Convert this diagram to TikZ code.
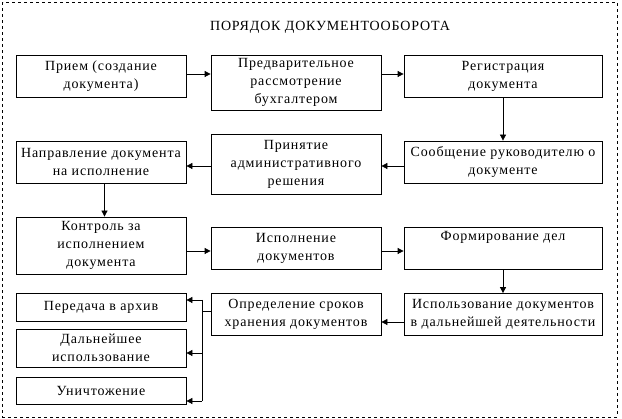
\documentclass[tikz,border=0pt]{standalone}
\usepackage{fontspec}
\setmainfont[LetterSpace=6]{Liberation Serif}
\usetikzlibrary{arrows.meta}
\begin{document}
\begin{tikzpicture}[x=1pt,y=-1pt,
  box/.style={draw,line width=0.8pt,align=center,inner sep=0pt,
    font=\fontsize{14}{18}\selectfont},
  arr/.style={line width=0.8pt,-{Triangle[length=6pt,width=6pt]}},
  ln/.style={line width=0.8pt}]
\useasboundingbox (0,0) rectangle (622,419);
\draw[dashed,line width=0.7pt] (2.5,2.5) rectangle (617,417);
\node[font=\fontsize{14}{18}\selectfont] (title) at (330,27) {ПОРЯДОК ДОКУМЕНТООБОРОТА};
% row 1
\node[box,minimum width=170pt,minimum height=42pt] (A) at (101,76) {Прием (создание\\документа)};
\node[box,minimum width=170pt,minimum height=55pt] (B) at (296,82.5) {Предварительное\\рассмотрение\\бухгалтером};
\node[box,minimum width=198pt,minimum height=42pt] (C) at (503,76) {Регистрация\\документа};
% row 2
\node[box,minimum width=170pt,minimum height=42pt] (D) at (101,162) {Направление документа\\на исполнение};
\node[box,minimum width=170pt,minimum height=60pt] (E) at (296,164) {Принятие\\административного\\решения};
\node[box,minimum width=198pt,minimum height=42pt] (F) at (503,162) {Сообщение руководителю о\\документе};
% row 3
\node[box,minimum width=170pt,minimum height=57pt] (G) at (101,245.5) {Контроль за\\исполнением\\документа};
\node[box,minimum width=170pt,minimum height=42pt] (H) at (296,248) {Исполнение\\документов};
\node[box,minimum width=198pt,minimum height=42pt] (I) at (503,248) {Формирование дел\\\strut};
% row 4
\node[box,minimum width=170pt,minimum height=28pt] (J) at (101,307) {Передача в архив};
\node[box,minimum width=170pt,minimum height=38pt] (K) at (101,348) {Дальнейшее\\использование};
\node[box,minimum width=170pt,minimum height=27pt] (L) at (101,391) {Уничтожение};
\node[box,minimum width=170pt,minimum height=42pt] (M) at (296,314.5) {Определение сроков\\хранения документов};
\node[box,minimum width=198pt,minimum height=42pt] (N) at (503,314.5) {Использование документов\\в дальнейшей деятельности};
% connectors
\draw[arr] ([yshift=2pt]A.east) -- ([yshift=2pt]A.east -| B.west);
\draw[arr] ([yshift=2pt]C.west -| B.east) -- ([yshift=2pt]C.west);
\draw[arr] (C.south) -- (F.north);
\draw[arr] ([yshift=-4pt]F.west) -- ([yshift=-4pt]F.west -| E.east);
\draw[arr] ([yshift=-4pt]D.east -| E.west) -- ([yshift=-4pt]D.east);
\draw[arr] ([xshift=3.5pt]D.south) -- ([xshift=3.5pt]D.south |- G.north);
\draw[arr] ([yshift=-3pt]H.west -| G.east) -- ([yshift=-3pt]H.west);
\draw[arr] ([yshift=-3pt]H.east) -- ([yshift=-3pt]H.east -| I.west);
\draw[arr] (I.south) -- (N.north);
\draw[arr] ([yshift=-7.5pt]N.west) -- ([yshift=-7.5pt]N.west -| M.east);
\coordinate (t1) at (202,300);
\coordinate (tk) at (202,353);
\coordinate (t2) at (202,401);
\draw[ln] ([yshift=3.5pt]M.west) -- ([yshift=3.5pt]M.west -| t1);
\draw[ln] (t1) -- (t2);
\draw[arr] (t1) -- (t1 -| J.east);
\draw[arr] (tk) -- (tk -| K.east);
\draw[arr] (t2) -- (t2 -| L.east);
\end{tikzpicture}
\end{document}
